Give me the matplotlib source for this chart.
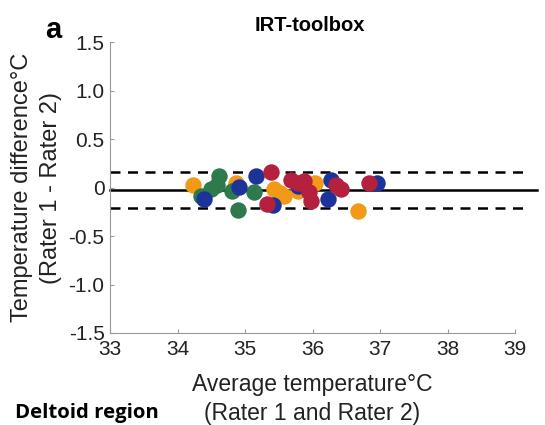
import matplotlib
matplotlib.use("Agg")
import matplotlib.pyplot as plt

# Bland-Altman data (mean temp, difference) per colour group
orange_x = [34.23, 34.87, 35.43, 35.52, 35.58, 35.78, 36.03, 36.67]
orange_y = [0.03, 0.05, -0.02, -0.06, -0.09, -0.04, 0.05, -0.24]
blue_x = [34.39, 34.91, 35.16, 35.41, 35.78, 36.27, 36.23, 36.95]
blue_y = [-0.12, 0.01, 0.12, -0.18, 0.02, 0.08, -0.12, 0.05]
red_x = [35.38, 35.33, 35.68, 35.78, 35.88, 35.95, 35.98, 36.35, 36.42, 36.83]
red_y = [0.16, -0.17, 0.08, 0.05, 0.07, -0.05, -0.14, 0.03, -0.02, 0.05]
green_x = [34.34, 34.49, 34.59, 34.61, 34.81, 34.90, 35.13]
green_y = [-0.09, -0.01, 0.03, 0.12, -0.04, -0.23, -0.05]

mean_diff = -0.025
upper_loa = 0.165
lower_loa = -0.215

yticks = [-1.5, -1.0, -0.5, 0, 0.5, 1.0, 1.5]
ytick_labels = ["-1.5", "-1.0", "-0.5", "0", "0.5", "1.0", "1.5"]
xticks = [33, 34, 35, 36, 37, 38, 39]

plt.rcParams['font.family'] = ['Liberation Sans', 'DejaVu Sans']

fig = plt.figure(figsize=(5.45, 4.25), dpi=100)
ax = fig.add_axes([0.202, 0.2165, 0.743, 0.6845])

ms = 140
ax.scatter(orange_x, orange_y, s=ms, color='#f29a17', zorder=3, linewidths=0)
ax.scatter(green_x, green_y, s=ms, color='#2e7a4c', zorder=3, linewidths=0)
ax.scatter(blue_x, blue_y, s=ms, color='#1c3499', zorder=3, linewidths=0)
ax.scatter(red_x, red_y, s=ms, color='#b5203e', zorder=3, linewidths=0)

# mean and limits of agreement
ax.plot([33, 39.32], [mean_diff, mean_diff], color='black', lw=1.8, clip_on=False, zorder=2)
ax.plot([33, 39.22], [upper_loa, upper_loa], color='black', lw=1.8, ls=(0, (4, 3)), clip_on=False, zorder=2)
ax.plot([33, 39.22], [lower_loa, lower_loa], color='black', lw=1.8, ls=(0, (4, 3)), clip_on=False, zorder=2)

ax.set_xlim(33, 39)
ax.set_ylim(-1.5, 1.5)
ax.set_xticks(xticks)
ax.set_yticks(yticks)
ax.set_yticklabels(ytick_labels)
ax.tick_params(direction='in', length=3, color='#999999', labelsize=15, labelcolor='#222222')
ax.tick_params(axis='x', pad=5)
ax.tick_params(axis='y', pad=4)
for s in ['top', 'right']:
    ax.spines[s].set_visible(False)
for s in ['left', 'bottom']:
    ax.spines[s].set_color('#999999')
    ax.spines[s].set_linewidth(0.8)

ax.set_ylabel("Temperature difference°C\n(Rater 1 - Rater 2)", fontsize=17, color='#222222', labelpad=5, linespacing=1.4)
ax.set_xlabel("Average temperature°C\n(Rater 1 and Rater 2)", fontsize=16.5, color='#222222', labelpad=10, linespacing=1.35)

fig.text(0.569, 0.939, "IRT-toolbox", fontsize=14.5, fontweight='bold', ha='center', va='center')
fig.text(0.082, 0.93, "a", fontsize=21, fontweight='bold', ha='left', va='center')
fig.text(0.027, 0.028, "Deltoid region", fontsize=14.7, fontweight='bold', ha='left', va='center',
         family=['Open Sans', 'DejaVu Sans'])

fig.savefig("out.png", dpi=100)
